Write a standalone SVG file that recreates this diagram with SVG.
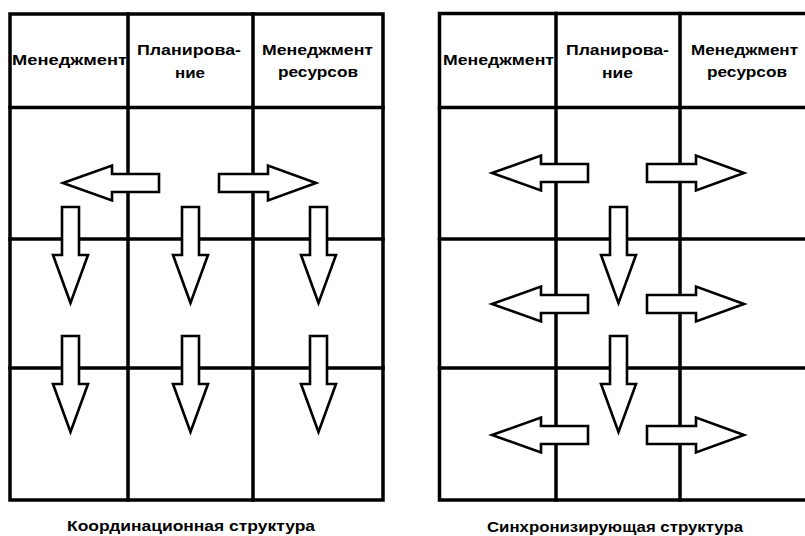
<svg xmlns="http://www.w3.org/2000/svg" xmlns:xlink="http://www.w3.org/1999/xlink" width="805" height="536" viewBox="0 0 805 536">
<style>
.grid{fill:none;stroke:#000;stroke-width:3.5;stroke-linecap:square}
.arr{fill:#fff;stroke:#000;stroke-width:2.6;stroke-linejoin:miter}
.lbl{font-family:"Liberation Sans",Arial,sans-serif;font-weight:bold;font-size:15px;fill:#000;text-anchor:middle}
.cap{font-family:"Liberation Sans",Arial,sans-serif;font-weight:bold;font-size:14px;fill:#000;text-anchor:middle}
</style>
<defs>
<path id="arrL" d="M0,0 L49,-17.5 L49,-9 L96,-9 L96,9 L49,9 L49,17.5 Z"/>
<path id="arrR" d="M0,0 L-48,-17.5 L-48,-9 L-97,-9 L-97,9 L-48,9 L-48,17.5 Z"/>
<path id="arrD" d="M0,0 L-17.5,-48 L-8.5,-48 L-8.5,-96 L8.5,-96 L8.5,-48 L17.5,-48 Z"/>
</defs>
<rect width="805" height="536" fill="#fff"/>

<g id="grid-left">
<rect class="grid" x="10" y="14" width="373" height="486"/>
<line class="grid" x1="10" y1="107.5" x2="383" y2="107.5"/>
<line class="grid" x1="10" y1="239" x2="383" y2="239"/>
<line class="grid" x1="10" y1="368" x2="383" y2="368"/>
<line class="grid" x1="128" y1="14" x2="128" y2="500"/>
<line class="grid" x1="253" y1="14" x2="253" y2="500"/>
</g>
<g id="grid-right">
<rect class="grid" x="439.5" y="13.5" width="400" height="486.5"/>
<line class="grid" x1="439.5" y1="107.5" x2="810" y2="107.5"/>
<line class="grid" x1="439.5" y1="239" x2="810" y2="239"/>
<line class="grid" x1="439.5" y1="368" x2="810" y2="368"/>
<line class="grid" x1="556" y1="13.5" x2="556" y2="500"/>
<line class="grid" x1="680" y1="13.5" x2="680" y2="500"/>
</g>

<g id="node-l-mgmt"><text class="lbl" x="69.5" y="65" textLength="115" lengthAdjust="spacingAndGlyphs">Менеджмент</text></g>
<g id="node-l-plan"><text class="lbl" x="189" y="55" textLength="104" lengthAdjust="spacingAndGlyphs">Планирова-</text><text class="lbl" x="190" y="78" textLength="30" lengthAdjust="spacingAndGlyphs">ние</text></g>
<g id="node-l-res"><text class="lbl" x="317.5" y="55" textLength="111" lengthAdjust="spacingAndGlyphs">Менеджмент</text><text class="lbl" x="318" y="77" textLength="80" lengthAdjust="spacingAndGlyphs">ресурсов</text></g>

<g id="node-r-mgmt"><text class="lbl" x="498.5" y="65" textLength="111" lengthAdjust="spacingAndGlyphs">Менеджмент</text></g>
<g id="node-r-plan"><text class="lbl" x="617.5" y="55" textLength="103" lengthAdjust="spacingAndGlyphs">Планирова-</text><text class="lbl" x="617.5" y="78" textLength="31" lengthAdjust="spacingAndGlyphs">ние</text></g>
<g id="node-r-res"><text class="lbl" x="744.5" y="55" textLength="107" lengthAdjust="spacingAndGlyphs">Менеджмент</text><text class="lbl" x="747" y="77" textLength="80" lengthAdjust="spacingAndGlyphs">ресурсов</text></g>

<g id="connectors">
<use class="arr" xlink:href="#arrL" href="#arrL" x="63" y="183"/>
<use class="arr" xlink:href="#arrR" href="#arrR" x="316" y="183"/>
<use class="arr" xlink:href="#arrD" href="#arrD" x="70.5" y="303"/>
<use class="arr" xlink:href="#arrD" href="#arrD" x="190.5" y="303"/>
<use class="arr" xlink:href="#arrD" href="#arrD" x="318.5" y="303"/>
<use class="arr" xlink:href="#arrD" href="#arrD" x="70.5" y="432"/>
<use class="arr" xlink:href="#arrD" href="#arrD" x="190.5" y="432"/>
<use class="arr" xlink:href="#arrD" href="#arrD" x="318.5" y="432"/>

<use class="arr" xlink:href="#arrL" href="#arrL" x="492" y="173"/>
<use class="arr" xlink:href="#arrR" href="#arrR" x="744" y="173"/>
<use class="arr" xlink:href="#arrL" href="#arrL" x="492" y="304"/>
<use class="arr" xlink:href="#arrR" href="#arrR" x="744" y="304"/>
<use class="arr" xlink:href="#arrL" href="#arrL" x="492" y="435"/>
<use class="arr" xlink:href="#arrR" href="#arrR" x="744" y="435"/>
<use class="arr" xlink:href="#arrD" href="#arrD" x="618.5" y="303"/>
<use class="arr" xlink:href="#arrD" href="#arrD" x="618.5" y="432"/>
</g>

<g id="captions">
<text class="cap" x="191" y="531" textLength="248" lengthAdjust="spacingAndGlyphs">Координационная структура</text>
<text class="cap" x="615" y="532" textLength="256" lengthAdjust="spacingAndGlyphs">Синхронизирующая структура</text>
</g>
</svg>
